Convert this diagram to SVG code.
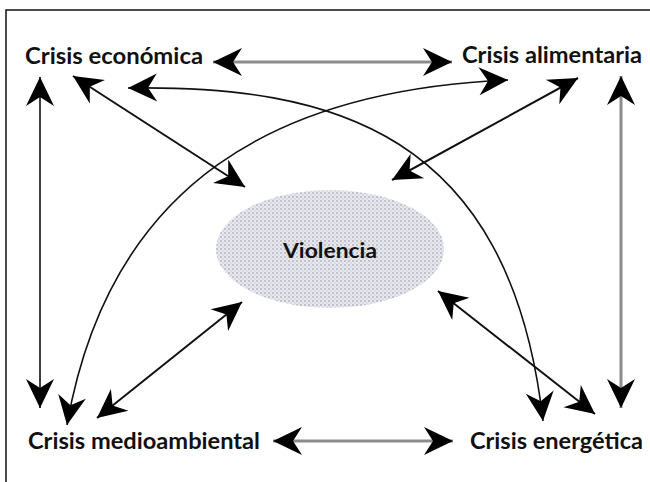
<svg xmlns="http://www.w3.org/2000/svg" width="650" height="482" viewBox="0 0 650 482">
<style>
.lbl{font-family:Lato,"Open Sans","Liberation Sans",sans-serif;font-weight:700;font-size:23px;fill:#111}
.blk{fill:none;stroke:#111;stroke-width:2}
.thin{fill:none;stroke:#111;stroke-width:1.6}
.gry{fill:none;stroke:#8c8c8c;stroke-width:3}
</style>
<defs>
<marker id="ah" markerUnits="userSpaceOnUse" markerWidth="32" markerHeight="32" viewBox="-30 -16 32 32" refX="0" refY="0" orient="auto-start-reverse">
<path d="M0 0 L-29 -14 L-20 0 L-29 14 Z" fill="#000"/>
</marker>
<pattern id="dots" width="4" height="4" patternUnits="userSpaceOnUse">
<rect width="4" height="4" fill="#e8e8f0"/>
<circle cx="1" cy="1" r="1" fill="#b4b4bc"/>
<circle cx="3" cy="3" r="0.8" fill="#c8c8d0"/>
</pattern>
</defs>
<rect width="650" height="482" fill="#fff"/>
<path d="M6 482 V10 H650" fill="none" stroke="#111" stroke-width="1.5"/>
<g id="violencia">
<ellipse cx="330" cy="249" rx="114" ry="59" fill="url(#dots)"/>
<text class="lbl" x="283" y="258" textLength="94" lengthAdjust="spacingAndGlyphs" style="font-size:20px">Violencia</text>
</g>
<g id="connectors">
<path class="gry" d="M213 62 H452" marker-start="url(#ah)" marker-end="url(#ah)"/>
<path class="gry" d="M273 441 H453" marker-start="url(#ah)" marker-end="url(#ah)"/>
<path class="gry" d="M621 76 V408" marker-start="url(#ah)" marker-end="url(#ah)"/>
<path class="thin" d="M40 77 V408" marker-start="url(#ah)" marker-end="url(#ah)"/>
<path class="blk" d="M73 76 L245 187" marker-start="url(#ah)" marker-end="url(#ah)"/>
<path class="blk" d="M578 78 L392 180" marker-start="url(#ah)" marker-end="url(#ah)"/>
<path class="blk" d="M242 302 L97 418" marker-start="url(#ah)" marker-end="url(#ah)"/>
<path class="blk" d="M438 291 L595 414" marker-start="url(#ah)" marker-end="url(#ah)"/>
<path class="thin" d="M508 80 C280 90 110 180 67 425" marker-start="url(#ah)" marker-end="url(#ah)"/>
<path class="thin" d="M128 88 C330 85 510 130 543 421" marker-start="url(#ah)" marker-end="url(#ah)"/>
</g>
<g id="crisis-economica"><text class="lbl" x="25" y="64" textLength="178" lengthAdjust="spacingAndGlyphs">Crisis económica</text></g>
<g id="crisis-alimentaria"><text class="lbl" x="462" y="63" textLength="180" lengthAdjust="spacingAndGlyphs">Crisis alimentaria</text></g>
<g id="crisis-medioambiental"><text class="lbl" x="28" y="449" textLength="232" lengthAdjust="spacingAndGlyphs">Crisis medioambiental</text></g>
<g id="crisis-energetica"><text class="lbl" x="470" y="449" textLength="173" lengthAdjust="spacingAndGlyphs">Crisis energética</text></g>
</svg>
